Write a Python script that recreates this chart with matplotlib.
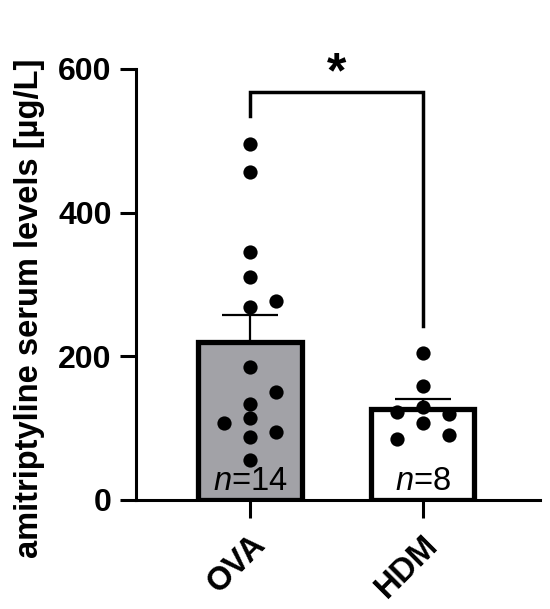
import numpy as np
import matplotlib
matplotlib.use("Agg")
import matplotlib.pyplot as plt

plt.rcParams['font.family'] = ['Liberation Sans', 'DejaVu Sans']
plt.rcParams['mathtext.fontset'] = 'custom'
plt.rcParams['mathtext.it'] = 'Liberation Sans:italic'
plt.rcParams['mathtext.rm'] = 'Liberation Sans'

categories = ["OVA", "HDM"]
ova_values = [496, 457, 345, 310, 269, 277, 185, 150, 134, 107, 114, 95, 88, 55]
ova_offsets = [0, 0, 0, 0, 0, 1, 0, 1, 0, -1, 0, 1, 0, 0]
hdm_values = [205, 158, 130, 123, 119, 107, 85, 91]
hdm_offsets = [0, 0, 0, -1, 1, 0, -1, 1]
n_labels = ["n=14", "n=8"]
bar_colors = ["#a2a2a7", "#ffffff"]
y_ticks = [0, 200, 400, 600]
ylabel = "amitriptyline serum levels [µg/L]"
sig_text = "*"
bracket_levels = [534, 568, 242]

groups = [ova_values, hdm_values]
offsets = [ova_offsets, hdm_offsets]
means = [np.mean(g) for g in groups]
sems = [np.std(g, ddof=1) / np.sqrt(len(g)) for g in groups]

fig = plt.figure(figsize=(5.5, 6.09), dpi=100)
ax = fig.add_axes([0.247, 0.179, 0.735, 0.708])

x = np.arange(len(categories))
ax.errorbar(x, means, yerr=[np.zeros(len(x)), sems], fmt='none', ecolor='black',
            elinewidth=1.6, capsize=20, capthick=1.6, zorder=1)
ax.bar(x, means, width=0.6, color=bar_colors, edgecolor='black', linewidth=3.8, zorder=2)

jit = 0.15
for i, (vals, offs) in enumerate(zip(groups, offsets)):
    xs = x[i] + np.array(offs) * jit
    ax.scatter(xs, vals, s=105, color='black', zorder=4, linewidths=0)

for i, lab in enumerate(n_labels):
    num = lab.split("=")[1]
    ax.text(x[i], 4, r"$\it{n}$=" + num, ha='center', va='bottom', fontsize=23.5, zorder=5)

ax.set_xlim(-0.66, 1.68)
ax.set_ylim(0, 600)
ax.set_yticks(y_ticks)
ax.set_xticks(x)
ax.set_xticklabels(categories, rotation=45, ha='right', rotation_mode='anchor',
                   fontsize=23.5, fontweight='bold')
ax.tick_params(axis='x', length=13, width=2.2, pad=8)
ax.tick_params(axis='y', length=11.5, width=2.2, labelsize=23, pad=6)
for lbl in ax.get_yticklabels():
    lbl.set_fontweight('bold')
ax.spines['top'].set_visible(False)
ax.spines['right'].set_visible(False)
ax.spines['left'].set_linewidth(2.2)
ax.spines['bottom'].set_linewidth(2.2)
ax.set_ylabel(ylabel, fontsize=23.5, fontweight='bold')
ax.yaxis.set_label_coords(-0.225, 0.445)

ax.plot([x[0], x[0], x[1], x[1]],
        [bracket_levels[0], bracket_levels[1], bracket_levels[1], bracket_levels[2]],
        color='black', linewidth=2.5, clip_on=False, solid_joinstyle='miter')
ax.text((x[0] + x[1]) / 2, bracket_levels[1] - 8, sig_text, ha='center', va='bottom',
        fontsize=36, fontweight='bold', clip_on=False)

fig.savefig("out.png", dpi=100)
